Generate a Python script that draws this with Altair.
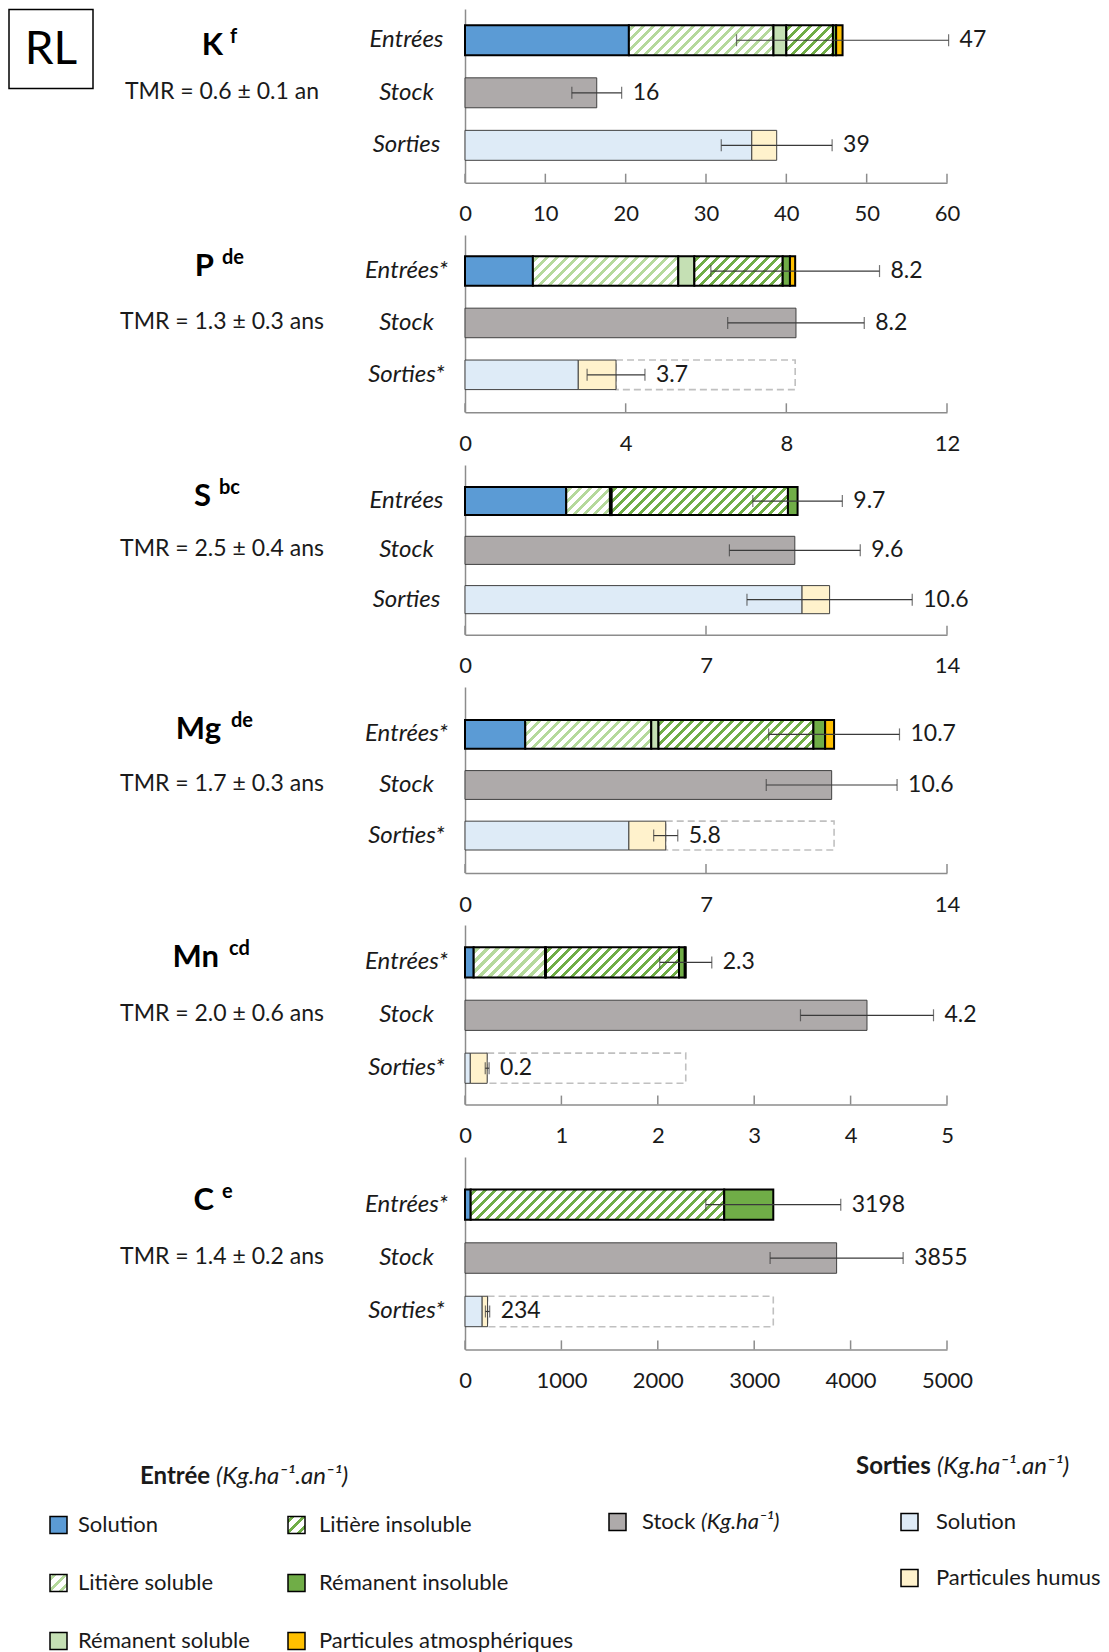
import math
import altair as alt

# ------------------------------------------------------------------ data
elements = ["K", "P", "S", "Mg", "Mn", "C"]
element_sup = ["f", "de", "bc", "de", "cd", "e"]
tmr_labels = ["TMR = 0.6 ± 0.1 an", "TMR = 1.3 ± 0.3 ans", "TMR = 2.5 ± 0.4 ans",
              "TMR = 1.7 ± 0.3 ans", "TMR = 2.0 ± 0.6 ans", "TMR = 1.4 ± 0.2 ans"]
row_entrees = ["Entrées", "Entrées*", "Entrées", "Entrées*", "Entrées*", "Entrées*"]
row_stock = ["Stock", "Stock", "Stock", "Stock", "Stock", "Stock"]
row_sorties = ["Sorties", "Sorties*", "Sorties", "Sorties*", "Sorties*", "Sorties*"]
x_max = [60, 12, 14, 14, 5, 5000]
x_ticks = [[0, 10, 20, 30, 40, 50, 60], [0, 4, 8, 12], [0, 7, 14], [0, 7, 14],
           [0, 1, 2, 3, 4, 5], [0, 1000, 2000, 3000, 4000, 5000]]

entree_components = ["Solution", "Litière soluble", "Rémanent soluble",
                     "Litière insoluble", "Rémanent insoluble", "Particules atmosphériques"]
in_solution = [20.4, 1.69, 2.94, 1.75, 0.09, 59]
in_litiere_sol = [18.0, 3.62, 1.27, 3.66, 0.74, 0]
in_remanent_sol = [1.6, 0.40, 0.05, 0.21, 0.01, 0]
in_litiere_insol = [5.8, 2.20, 5.12, 4.50, 1.38, 2630]
in_remanent_insol = [0.4, 0.18, 0.28, 0.34, 0.06, 509]
in_part_atm = [0.8, 0.13, 0.0, 0.26, 0.01, 0]
in_err = [13.2, 2.1, 1.3, 1.9, 0.27, 700]
in_label = ["47", "8.2", "9.7", "10.7", "2.3", "3198"]

stock_value = [16.4, 8.24, 9.58, 10.65, 4.17, 3855]
stock_err = [3.1, 1.7, 1.9, 1.9, 0.69, 690]
stock_label = ["16", "8.2", "9.6", "10.6", "4.2", "3855"]

out_solution = [35.7, 2.82, 9.79, 4.76, 0.055, 178]
out_humus = [3.1, 0.94, 0.80, 1.07, 0.175, 56]
out_err = [6.9, 0.72, 2.4, 0.35, 0.02, 22]
out_label = ["39", "3.7", "10.6", "5.8", "0.2", "234"]

legend_labels = ["Solution", "Litière soluble", "Rémanent soluble", "Litière insoluble",
                 "Rémanent insoluble", "Particules atmosphériques", "Stock", "Solution",
                 "Particules humus"]
legend_title_in = ["Entrée", "(Kg.ha⁻¹.an⁻¹)"]
legend_title_out = ["Sorties", "(Kg.ha⁻¹.an⁻¹)"]
legend_stock_unit = "(Kg.ha⁻¹)"

# ------------------------------------------------------------------ style / layout
FONT = "Lato"
TXT = "#1a1a1a"
AXC = "#8c8c8c"
C_SOL = "#5b9bd5"
C_LIT_SOL = "#b5d99c"
C_REM_SOL = "#c5e0b4"
C_LIT_INS = "#70ad47"
C_REM_INS = "#70ad47"
C_ATM = "#ffc000"
C_STOCK = "#aeaaaa"
C_OUT_SOL = "#deebf7"
C_HUM = "#fff2cc"

PLOT_W = 482
panel_h = [173.7, 177.3, 169.7, 186.0, 179.6, 192.4]
bars_top = [16.3, 21.3, 22.0, 33.0, 22.3, 32.4]
bars_bot = [151.3, 154.6, 148.7, 163.0, 158.3, 169.7]
PAD_IN = 0.43
SPACING = 52
NAME_X = [-242, -251, -254, -244, -246, -251]
SUP_X = [-235, -243, -246, -234, -236, -243]
NAME_DY = [15, 5, 5, 5, 5, 5]
TMR_X = -243


def hatch(w, h, fg, bg="#ffffff", period=10.0, frac=0.42):
    w = max(w, 1.0)
    h = max(h, 1.0)
    kk = h / (w * w + h * h)
    stops = [{"offset": 0, "color": bg}]
    n = int(math.ceil((w + h) / period)) + 2
    for k in range(n):
        s0 = (k + 0.3) * period
        s1 = s0 + frac * period
        f0, f1 = s0 * kk, s1 * kk
        if f0 >= 1:
            break
        f1 = min(f1, 1.0)
        f0 = round(f0, 5)
        f1 = round(f1, 5)
        stops += [{"offset": f0, "color": bg}, {"offset": f0, "color": fg},
                  {"offset": f1, "color": fg}, {"offset": f1, "color": bg}]
    return {"gradient": "linear", "x1": 0, "y1": 0, "x2": w / h, "y2": 1, "stops": stops}


def panel(i):
    H = panel_h[i]
    span = bars_bot[i] - bars_top[i]
    step = span / (3 - PAD_IN)
    bw = step * (1 - PAD_IN)
    outer = H - span
    p_out = outer / (2 * step)
    al = bars_top[i] / outer
    rows = [row_entrees[i], row_stock[i], row_sorties[i]]
    ppu = PLOT_W / x_max[i]

    yscale = alt.Scale(domain=rows, paddingInner=PAD_IN, paddingOuter=p_out, align=al)
    yaxis = alt.Axis(ticks=False, tickSize=0, domainColor=AXC, domainWidth=1.5,
                     labelAlign="center", labelPadding=59, labelFontSize=24,
                     labelFontStyle="italic", labelFont=FONT, labelColor=TXT,
                     labelBaseline="middle", grid=False, title=None)
    xscale = alt.Scale(domain=[0, x_max[i]], nice=False, zero=True)
    xaxis = alt.Axis(values=x_ticks[i], ticks=False, tickSize=0, domainColor=AXC,
                     domainWidth=1.5, labelFontSize=22, labelFont=FONT, labelColor=TXT,
                     labelPadding=31, labelBaseline="middle", labelFlush=False,
                     labelOverlap=False, grid=False, title=None, format="d")

    def X(f):
        return alt.X(f, type="quantitative", scale=xscale, axis=xaxis, title=None)

    def Y():
        return alt.Y("row:N", sort=rows, scale=yscale, axis=yaxis, title=None)

    segs = []
    vals = [in_solution[i], in_litiere_sol[i], in_remanent_sol[i],
            in_litiere_insol[i], in_remanent_insol[i], in_part_atm[i]]
    fills = [C_SOL, None, C_REM_SOL, None, C_REM_INS, C_ATM]
    acc = 0.0
    for j, v in enumerate(vals):
        if v <= 0:
            continue
        if j == 1:
            f = hatch(v * ppu, bw, C_LIT_SOL)
        elif j == 3:
            f = hatch(v * ppu, bw, C_LIT_INS)
        else:
            f = fills[j]
        segs.append({"row": rows[0], "comp": entree_components[j], "a": acc, "b": acc + v,
                     "fill": f, "stroke": "#000000", "sw": 2.0})
        acc += v
    in_total = acc
    segs.append({"row": rows[1], "comp": "Stock", "a": 0, "b": stock_value[i],
                 "fill": C_STOCK, "stroke": "#404040", "sw": 1.0})
    segs.append({"row": rows[2], "comp": "Solution", "a": 0, "b": out_solution[i],
                 "fill": C_OUT_SOL, "stroke": "#404040", "sw": 1.0})
    out_total = out_solution[i] + out_humus[i]
    segs.append({"row": rows[2], "comp": "Particules humus", "a": out_solution[i],
                 "b": out_total, "fill": C_HUM, "stroke": "#404040", "sw": 1.0})

    layers = []
    if rows[2].endswith("*"):
        dash = alt.Chart(alt.Data(values=[{"row": rows[2], "a": out_total, "b": in_total}])).mark_bar(
            fillOpacity=0, stroke="#c0c0c0", strokeWidth=1.6, strokeDash=[7, 4]
        ).encode(x=X("a"), x2="b:Q", y=Y())
        layers.append(dash)

    bars = alt.Chart(alt.Data(values=segs)).mark_bar().encode(
        x=X("a"), x2="b:Q", y=Y(),
        fill=alt.Fill("fill:N", scale=None),
        stroke=alt.Stroke("stroke:N", scale=None),
        strokeWidth=alt.StrokeWidth("sw:Q", scale=None),
    )
    layers.append(bars)

    centers = [in_total, stock_value[i], out_total]
    errs = [in_err[i], stock_err[i], out_err[i]]
    labs = [in_label[i], stock_label[i], out_label[i]]
    eb = [{"row": rows[k], "lo": centers[k] - errs[k], "hi": centers[k] + errs[k],
           "lab": labs[k]} for k in range(3)]
    caps = []
    for d in eb:
        caps.append({"row": d["row"], "v": d["lo"]})
        caps.append({"row": d["row"], "v": d["hi"]})

    layers.append(alt.Chart(alt.Data(values=eb)).mark_rule(color="#3a3a3a", strokeWidth=1.2).encode(
        x=X("lo"), x2="hi:Q", y=Y()))
    layers.append(alt.Chart(alt.Data(values=caps)).mark_tick(color="#3a3a3a", thickness=1.2, size=12).encode(
        x=X("v"), y=Y()))
    layers.append(alt.Chart(alt.Data(values=eb)).mark_text(
        align="left", baseline="middle", dx=11, fontSize=23, font=FONT, color=TXT).encode(
        x=X("hi"), y=Y(), text="lab:N"))

    layers.append(alt.Chart(alt.Data(values=[{"v": t} for t in x_ticks[i]])).mark_rule(
        color=AXC, strokeWidth=1.5).encode(x=X("v"), y=alt.value(H - 9), y2=alt.value(H)))

    layers.append(alt.Chart(alt.Data(values=[{"row": rows[0], "t": elements[i]}])).mark_text(
        align="right", baseline="alphabetic", dy=NAME_DY[i], fontSize=31, fontWeight="bold",
        font=FONT, color="#000000").encode(x=alt.value(NAME_X[i]), y=Y(), text="t:N"))
    layers.append(alt.Chart(alt.Data(values=[{"row": rows[0], "t": element_sup[i]}])).mark_text(
        align="left", baseline="alphabetic", dy=NAME_DY[i] - 12, fontSize=20, fontWeight="bold",
        font=FONT, color="#000000").encode(x=alt.value(SUP_X[i]), y=Y(), text="t:N"))
    layers.append(alt.Chart(alt.Data(values=[{"row": rows[1], "t": tmr_labels[i]}])).mark_text(
        align="center", baseline="alphabetic", dy=6, fontSize=23, font=FONT,
        color=TXT).encode(x=alt.value(TMR_X), y=Y(), text="t:N"))

    if i == 0:
        layers.append(alt.Chart(alt.Data(values=[{"t": "RL"}])).mark_rect(
            fillOpacity=0, stroke="#000000", strokeWidth=1.5).encode(
            x=alt.value(-456), x2=alt.value(-372), y=alt.value(0.6), y2=alt.value(79.4)))
        layers.append(alt.Chart(alt.Data(values=[{"t": "RL"}])).mark_text(
            align="center", baseline="middle", fontSize=46, font=FONT, color="#000000").encode(
            x=alt.value(-414), y=alt.value(41), text="t:N"))

    return alt.layer(*layers).properties(width=PLOT_W, height=H)


# ------------------------------------------------------------------ legend
LEG_COL_X = [-415, -177, 144, 436]
LEG_TEXT_DX = [28, 31, 33, 35]
LEG_ROW_Y = [123, 181, 239]
leg_pos = [(0, 0), (0, 1), (0, 2), (1, 0), (1, 1), (1, 2), (2, 0), (3, 0), (3, 1)]
leg_dy = [0, 0, 0, 0, 0, 0, -3, -3, -5]
SW = 17
leg_fills = [C_SOL, hatch(SW, SW, C_LIT_SOL, period=11, frac=0.35), C_REM_SOL,
             hatch(SW, SW, C_LIT_INS, period=11, frac=0.35), C_REM_INS, C_ATM,
             C_STOCK, C_OUT_SOL, C_HUM]
leg_rows = []
for k, lab in enumerate(legend_labels):
    c, r = leg_pos[k]
    yc = LEG_ROW_Y[r] + leg_dy[k]
    leg_rows.append({"lab": lab, "fill": leg_fills[k],
                     "x0": LEG_COL_X[c], "x1": LEG_COL_X[c] + SW,
                     "y0": yc - SW / 2, "y1": yc + SW / 2,
                     "tx": LEG_COL_X[c] + LEG_TEXT_DX[c], "ty": yc})

leg_sw = alt.Chart(alt.Data(values=leg_rows)).mark_rect(stroke="#000000", strokeWidth=1.5).encode(
    x=alt.X("x0:Q", scale=None), x2="x1:Q", y=alt.Y("y0:Q", scale=None), y2="y1:Q",
    fill=alt.Fill("fill:N", scale=None))
leg_tx = alt.Chart(alt.Data(values=leg_rows)).mark_text(
    align="left", baseline="middle", fontSize=22, font=FONT, color=TXT).encode(
    x=alt.X("tx:Q", scale=None), y=alt.Y("ty:Q", scale=None), text="lab:N")

titles = [
    {"t": legend_title_in[0], "x": -325, "y": 75, "w": "bold", "s": "normal", "fs": 24},
    {"t": legend_title_in[1], "x": -249, "y": 75, "w": "normal", "s": "italic", "fs": 24},
    {"t": legend_title_out[0], "x": 391, "y": 65, "w": "bold", "s": "normal", "fs": 24},
    {"t": legend_title_out[1], "x": 472, "y": 65, "w": "normal", "s": "italic", "fs": 24},
    {"t": legend_stock_unit, "x": 236, "y": 120, "w": "normal", "s": "italic", "fs": 22},
]
leg_titles_b = alt.Chart(alt.Data(values=[d for d in titles if d["w"] == "bold"])).mark_text(
    align="left", baseline="middle", fontSize=24, font=FONT, fontWeight="bold", color=TXT).encode(
    x=alt.X("x:Q", scale=None), y=alt.Y("y:Q", scale=None), text="t:N")
leg_titles_i = alt.Chart(alt.Data(values=[d for d in titles if d["s"] == "italic"])).mark_text(
    align="left", baseline="middle", font=FONT, fontStyle="italic", color=TXT).encode(
    x=alt.X("x:Q", scale=None), y=alt.Y("y:Q", scale=None), text="t:N",
    size=alt.Size("fs:Q", scale=None))

legend = alt.layer(leg_sw, leg_tx, leg_titles_b, leg_titles_i).properties(width=PLOT_W, height=250)

chart = alt.vconcat(*[panel(i) for i in range(6)], legend, spacing=SPACING, bounds="flush").properties(
    padding={"left": 0, "top": 0, "right": 0, "bottom": 0}
).configure_view(stroke=None).configure_axis(grid=False)

chart.save("out.html", embed_options={"renderer": "svg", "actions": False})
